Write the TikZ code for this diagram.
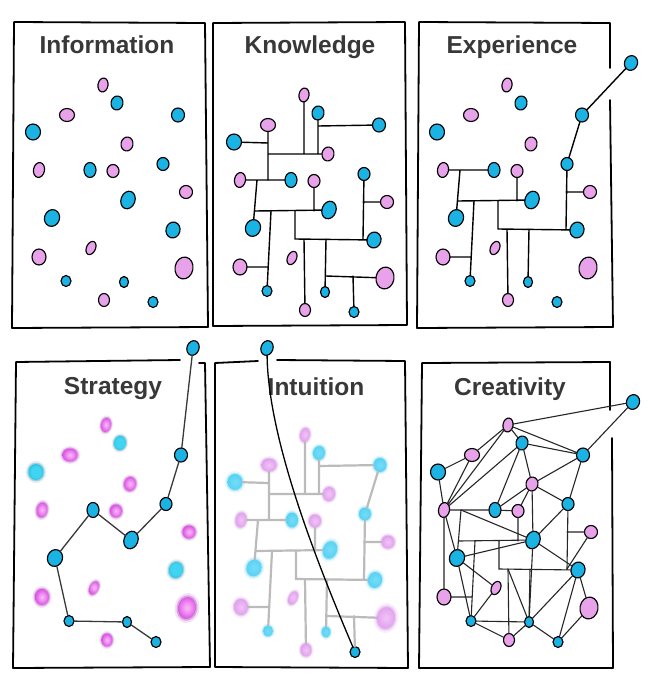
\documentclass[tikz,border=0pt]{standalone}
\usepackage{fontspec}
\setmainfont{Liberation Sans}
\usetikzlibrary{shapes.geometric}
\definecolor{dcp}{HTML}{E8A2EA}
\definecolor{dcc}{HTML}{1BB2E4}
\definecolor{titlegray}{HTML}{383838}
\definecolor{sprim}{HTML}{A020B4}
\definecolor{spa}{HTML}{F8B8F8}
\definecolor{spb}{HTML}{F294F4}
\definecolor{spc}{HTML}{D850E0}
\definecolor{scrim}{HTML}{12849E}
\definecolor{sca}{HTML}{40D4F2}
\definecolor{scb}{HTML}{1CB8DC}
\definecolor{iprim}{HTML}{CA80DE}
\definecolor{ipa}{HTML}{F0C4F6}
\definecolor{ipb}{HTML}{E2A2EE}
\definecolor{icrim}{HTML}{4CC8EC}
\definecolor{ica}{HTML}{76DCF8}
\definecolor{icb}{HTML}{50D0F2}
\definecolor{ngray}{HTML}{BBBBBB}
\definecolor{sline}{HTML}{383838}
\definecolor{cline}{HTML}{262626}
\pgfdeclareradialshading{spsh}{\pgfpoint{0bp}{0bp}}{color(0bp)=(spa); color(10bp)=(spb); color(26bp)=(spc); color(40bp)=(sprim); color(50bp)=(sprim)}
\pgfdeclareradialshading{scsh}{\pgfpoint{0bp}{0bp}}{color(0bp)=(sca); color(16bp)=(sca); color(32bp)=(scb); color(46bp)=(scrim); color(50bp)=(scrim)}
\pgfdeclareradialshading{ipsh}{\pgfpoint{0bp}{0bp}}{color(0bp)=(ipa); color(24bp)=(ipb); color(44bp)=(iprim); color(50bp)=(iprim)}
\pgfdeclareradialshading{icsh}{\pgfpoint{0bp}{0bp}}{color(0bp)=(ica); color(30bp)=(icb); color(50bp)=(icrim)}

\tikzset{
  crisp/.style={ellipse, draw=black, line width=1.15pt, fill=dc#1, inner sep=0pt, outer sep=0pt},
  frame/.style={line width=1.8pt, line join=round, line cap=round},
  title/.style={font=\fontsize{24.5}{28}\selectfont\bfseries, text=titlegray, inner sep=0pt, anchor=base},
  knet/.style={line width=1.4pt, black, line cap=round},
  inet/.style={line width=2.2pt, ngray, line cap=round},
  snet/.style={line width=1.3pt, sline, line cap=round},
  cnet/.style={line width=1.1pt, cline, line cap=round},
}

\def\dotsA{P1/103/85/p/5/7/-10, C2/117/103/c/6/7/-10, P3/67/115/p/7.5/6.5/0, C5/33/132/c/7.5/8/0, P6/127/144/p/6/7/-10, P7/39/170/p/5.5/7.5/-10, P9/113/171/p/6/6.5/0, P11/186/192/p/6.5/6.5/0, C14/173/230/c/7/8/-15, P15/39/257/p/7/8/0, P16/91/248/p/4.5/7/-25, P17/184/268/p/9/11/-10, P20/104/300/p/5.5/6.5/0}
\def\dotsB{C4/178/115/c/6.5/7/0, C8/90/170/c/6/7.5/0, C10/163/164/c/6/6.5/0, C12/128/200/c/7/9/-20, C13/52/218/c/7.5/8.5/-20, C18/66/281/c/5/5.5/0, C19/124/282/c/4.5/5.5/0}
\def\dotsC{C21/153/302/c/5/5.5/0}

\newcommand\crispdots[2]{%
  \foreach \Dn/\Dx/\Dy/\Dt/\Dw/\Dh/\Dr in #2 {%
    \node[crisp=\Dt, minimum width=2*\Dw, minimum height=2*\Dh, rotate=\Dr] (#1\Dn) at (\Dx,\Dy) {};
  }}
\newcommand\blurdots[3]{%
  \foreach \Dn/\Dx/\Dy/\Dt/\Dw/\Dh/\Dr in #2 {%
    \begin{scope}[shift={(\Dx,\Dy)}, rotate=\Dr]
      \fill[fill=#3\Dt rim, opacity=0.12] (0,0) ellipse ({1.38*\Dw} and {1.38*\Dh});
      \fill[fill=#3\Dt rim, opacity=0.3] (0,0) ellipse ({1.17*\Dw} and {1.17*\Dh});
    \end{scope}
    \node[ellipse, inner sep=0pt, outer sep=0pt, minimum width=2*\Dw, minimum height=2*\Dh, rotate=\Dr, shade, shading=#3\Dt sh] (#1\Dn) at (\Dx,\Dy) {};
  }}
\newcommand\junctions[1]{%
  \coordinate (#1j1) at (103,144);
  \coordinate (#1j2) at (67,144);
  \coordinate (#1j3) at (117,144);
  \coordinate (#1j4) at (117,116);
  \coordinate (#1j5) at (67,170);
  \coordinate (#1j6) at (67,133);
  \coordinate (#1j7) at (56,170);
  \coordinate (#1j8) at (54,201);
  \coordinate (#1j9) at (113,201);
  \coordinate (#1j10) at (70,201);
  \coordinate (#1j11) at (67,257);
  \coordinate (#1j12) at (94,201);
  \coordinate (#1j13) at (94,229);
  \coordinate (#1j14) at (162,229);
  \coordinate (#1j15) at (162,192);
  \coordinate (#1j16) at (103,229);
  \coordinate (#1j17) at (125,229);
  \coordinate (#1j18) at (125,266);
  \coordinate (#1j19) at (152,266);}
\newcommand\netlower[2]{%
  \draw[#2] (#1P7) -- (#1C8) (#1j7) -- (#1C13) (#1j8) -- (#1C12) (#1P9) -- (#1j9)
    (#1j10) -- (#1C18) (#1P15) -- (#1j11) (#1j12) -- (#1j13) -- (#1C14)
    (#1C10) -- (#1j14) (#1P11) -- (#1j15) (#1j16) -- (#1P20) (#1j17) -- (#1C19);}
\newcommand\netupper[2]{%
  \draw[#2] (#1P1) -- (#1j1) (#1j2) -- (#1P6) (#1C2) -- (#1j3) (#1j4) -- (#1C4)
    (#1P3) -- (#1j5) (#1C5) -- (#1j6) (#1j18) -- (#1P17) (#1j19) -- (#1C21);}

\begin{document}
\begin{tikzpicture}[x=1pt, y=-1pt]
\useasboundingbox (0,0) rectangle (648,685);
\fill[white] (0,0) rectangle (648,685);

% ---------- frames ----------
\draw[frame] (14,22) -- (205,23) -- (208,327) -- (12,328) -- cycle;
\draw[frame] (213,23) -- (405,22) -- (407,325) -- (213,326) -- cycle;
\draw[frame] (610,68) -- (610,23) -- (419,22) -- (417,328) -- (613,327) -- (610,100);
\draw[frame] (180,360) -- (16,362) -- (13,668) -- (210,667) -- (205,363) -- (199,363);
\draw[frame] (258,361) -- (215,363) -- (215,667) -- (408,668) -- (405,361) -- (277,360);
\draw[frame] (610,410) -- (610,362) -- (422,363) -- (419,668) -- (613,668) -- (612,438);

% ---------- titles ----------
\node[title] (tInfo) at (107,53) {Information};
\node[title] (tKnow) at (310,53) {Knowledge};
\node[title] (tExp) at (512,53) {Experience};
\node[title] (tStrat) at (113,394) {Strategy};
\node[title] (tIntu) at (316,395) {Intuition};
\node[title] (tCrea) at (510,395) {Creativity};

% ---------- Information ----------
\begin{scope}
  \crispdots{A}{\dotsA}
  \crispdots{A}{\dotsB}
  \crispdots{A}{\dotsC}
\end{scope}

% ---------- Knowledge ----------
\begin{scope}[shift={(201,10)}]
  \crispdots{K}{\dotsA}
  \crispdots{K}{\dotsB}
  \crispdots{K}{\dotsC}
  \junctions{K}
  \netupper{K}{knet}
  \netlower{K}{knet}
\end{scope}

% ---------- Experience ----------
\begin{scope}[shift={(404,0)}]
  \crispdots{E}{\dotsA}
  \crispdots{E}{\dotsB}
  \crispdots{E}{\dotsC}
  \node[crisp=c, minimum width=13, minimum height=15, rotate=-20] (EX) at (227,63) {};
  \junctions{E}
  \netlower{E}{knet}
  \draw[knet] (EC10) -- (EC4) -- (EX);
\end{scope}

% ---------- Strategy ----------
\begin{scope}[shift={(3,340)}]
  \blurdots{S}{\dotsA}{s}
  \crispdots{S}{\dotsB}
  \crispdots{S}{\dotsC}
  \node[crisp=c, minimum width=12, minimum height=15, rotate=-20] (SX) at (190,8) {};
  \draw[snet] (SX) -- (SC4) -- (SC10) -- (SC12) -- (SC8) -- (SC13) -- (SC18) -- (SC19) -- (SC21);
\end{scope}

% ---------- Intuition ----------
\begin{scope}[shift={(202,350)}]
  \junctions{T}
  \blurdots{T}{\dotsA}{i}
  \blurdots{T}{\dotsB}{i}
  \crispdots{T}{\dotsC}
  \node[crisp=c, minimum width=12, minimum height=15, rotate=-20] (TX) at (65,-2) {};
  \netupper{T}{inet}
  \netlower{T}{inet}
  \draw[inet] (TC4) -- (TC10);
\end{scope}
\draw[line width=1.3pt, black] (TX) .. controls (268,440) and (318,565) .. (TC21);

% ---------- Creativity ----------
\begin{scope}[shift={(405,340)}]
  \crispdots{R}{\dotsA}
  \crispdots{R}{\dotsB}
  \crispdots{R}{\dotsC}
  \node[crisp=c, minimum width=13, minimum height=15, rotate=-20] (RX) at (228,62) {};
  \junctions{R}
  \netlower{R}{cnet}
  \draw[cnet] (RP1) -- (RX) (RP1) -- (RC4) (RP1) -- (RP3) (RP1) -- (RC2) (RP1) -- (RP7)
    (RP3) -- (RP7) (RC2) -- (RP7) (RC5) -- (RP3) (RC5) -- (RP7) (RC2) -- (RC4)
    (RC2) -- (RP6) (RC2) -- (RC8) (RP6) -- (RC4) (RP6) -- (RC8) (RP6) -- (RP9)
    (RP6) -- (RC10) (RP6) -- (RC12) (RC4) -- (RC10) (RC4) -- (RX) (Rj7) -- (RC12)
    (RC13) -- (RC12) (RP7) -- (RC13) (RP7) -- (RP15) (RC13) -- (RP16) (RC13) -- (RC18)
    (RP16) -- (RC18) (RC12) -- (RC10) (RC12) -- (RC14) (RC14) -- (RP17) (RC14) -- (RC19)
    (RC14) -- (RC21) (RP17) -- (RC21) (RC12) -- (RC19) (Rj16) -- (RC19) (RC19) -- (RP20)
    (RC19) -- (RC21) (RC18) -- (RC19) (RC18) -- (RP20) (RP11) -- (Rj14) (RC8) -- (RP9);
\end{scope}
\end{tikzpicture}
\end{document}
